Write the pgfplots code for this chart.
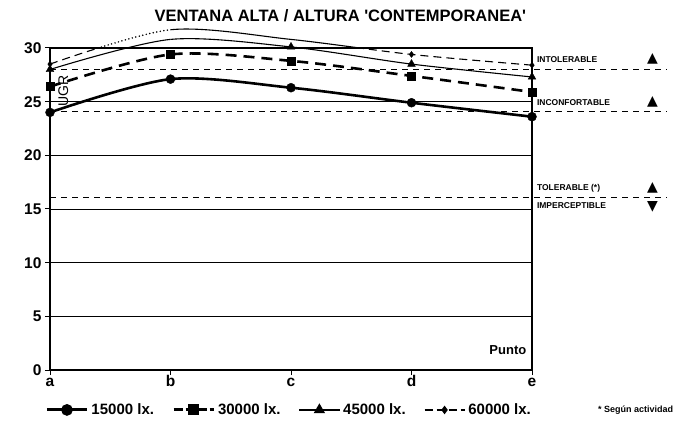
\documentclass[border=0pt]{standalone}
\usepackage{pgfplots}
\pgfplotsset{compat=1.18}
\usepackage{pgfplotstable}
\usepackage{fontspec}
\setmainfont{Liberation Sans}
\newfontfamily\symfont{DejaVu Sans}

\pgfplotstableread{
x s15 s30 s45 s60
0 24.0 26.4 28.0 28.5
1 27.1 29.4 30.8 31.7
2 26.3 28.8 30.1 30.8
3 24.9 27.4 28.5 29.4
4 23.6 25.9 27.3 28.4
}\data

\pgfplotsset{
  geom/.style={scale only axis, width=482pt, height=322pt, xmin=0, xmax=4, ymin=0, ymax=30},
  s15/.style={black, line width=2.6pt, smooth},
  s30/.style={black, line width=2.6pt, dash pattern=on 11pt off 7pt, smooth},
  s45/.style={black, line width=1.1pt, solid, smooth},
  s60/.style={black, line width=1.1pt, dash pattern=on 8pt off 5pt, smooth},
  s60dot/.style={black, line width=1.7pt, dash pattern=on 0pt off 3.6pt, line cap=round, smooth},
}

\begin{document}
\begin{tikzpicture}
% frame, grid, reference lines, texts, legend
\begin{axis}[geom, clip=false,
  ytick={0,5,...,30}, xtick={0,1,2,3,4}, xticklabels={a,b,c,d,e},
  ymajorgrids, major grid style={black, line width=0.8pt},
  axis line style={line width=1.4pt},
  tick style={black, line width=1pt}, major tick length=5pt, tick align=outside,
  ytick pos=left, xtick pos=bottom,
  /pgf/number format/assume math mode=true,
  yticklabel style={font=\bfseries\fontsize{15.5}{17}\selectfont},
  xticklabel style={font=\bfseries\fontsize{15.5}{17}\selectfont, text height=1.6ex, text depth=0.3ex},
  legend image code/.code={\draw[mark repeat=2,mark phase=2,#1] plot coordinates {(0pt,0pt)(20pt,0pt)(40pt,0pt)};},
  legend columns=4,
  legend style={draw=none, fill=none, at={(-0.016,-0.124)}, anchor=west,
    font=\bfseries\fontsize{15}{17}\selectfont,
    /tikz/every odd column/.append style={column sep=1pt},
    /tikz/every even column/.append style={column sep=16pt}},
  legend cell align=left,
]
\addlegendimage{s15, line width=3pt, mark=*, mark size=4.3pt, mark options={solid}}
\addlegendimage{s30, line width=3pt, dash pattern=on 9pt off 3pt, mark=square*, mark size=4pt, mark options={solid}}
\addlegendimage{s45, line width=1.6pt, mark=triangle*, mark size=5pt, mark options={solid}}
\addlegendimage{s60, line width=1.6pt, dash pattern=on 8pt off 4pt, mark=diamond*, mark size=3pt, mark options={solid}}
\legend{15000 lx.,30000 lx.,45000 lx.,60000 lx.}

\addplot[forget plot, black, line width=0.9pt, dash pattern=on 6pt off 5pt] coordinates {(0,28) (5.12,28)};
\addplot[forget plot, black, line width=0.9pt, dash pattern=on 6pt off 5pt] coordinates {(0,24.1) (5.12,24.1)};
\addplot[forget plot, black, line width=0.9pt, dash pattern=on 6pt off 5pt] coordinates {(0,16.1) (5.12,16.1)};

\node[font=\bfseries\fontsize{16.5}{18}\selectfont] at (axis cs:2.41,33.0) {VENTANA ALTA / ALTURA \textquotesingle CONTEMPORANEA\textquotesingle};
\node[font=\bfseries\fontsize{8.5}{9}\selectfont, anchor=west, inner sep=0pt] at (axis cs:4.04,28.9) {INTOLERABLE};
\node[font=\bfseries\fontsize{8.5}{9}\selectfont, anchor=west, inner sep=0pt] at (axis cs:4.04,24.9) {INCONFORTABLE};
\node[font=\bfseries\fontsize{8.5}{9}\selectfont, anchor=west, inner sep=0pt] at (axis cs:4.04,16.9) {TOLERABLE (*)};
\node[font=\bfseries\fontsize{8.5}{9}\selectfont, anchor=west, inner sep=0pt] at (axis cs:4.04,15.3) {IMPERCEPTIBLE};
\node[font=\symfont\fontsize{14}{14}\selectfont, inner sep=0pt] at (axis cs:5.0,29.0) {▲};
\node[font=\symfont\fontsize{14}{14}\selectfont, inner sep=0pt] at (axis cs:5.0,25.0) {▲};
\node[font=\symfont\fontsize{14}{14}\selectfont, inner sep=0pt] at (axis cs:5.0,17.0) {▲};
\node[font=\symfont\fontsize{14}{14}\selectfont, inner sep=0pt] at (axis cs:5.0,15.2) {▼};
\node[font=\bfseries\fontsize{13}{15}\selectfont] at (axis cs:3.8,1.9) {Punto};
\node[rotate=90, font=\fontsize{14}{15}\selectfont, inner sep=0pt] at (axis cs:0.11,26.0) {UGR};
\node[font=\bfseries\fontsize{9}{10}\selectfont] at (axis cs:4.86,-3.7) {* Según actividad};
\end{axis}

% series lines, clipped at 30
\begin{axis}[geom, hide axis, clip=true]
\addplot[s15] table[x=x,y=s15]{\data};
\addplot[s30] table[x=x,y=s30]{\data};
\addplot[s45] table[x=x,y=s45]{\data};
\addplot[s60] table[x=x,y=s60]{\data};
\end{axis}

% parts above 30, between a and b
\begin{axis}[scale only axis, at={(0pt,322pt)}, width=120.5pt, height=42.92pt,
  xmin=0, xmax=1, ymin=30, ymax=34, hide axis, clip=true]
\addplot[s45] table[x=x,y=s45]{\data};
\addplot[s60dot] table[x=x,y=s60]{\data};
\end{axis}

% parts above 30, between b and e
\begin{axis}[scale only axis, at={(120.5pt,322pt)}, width=361.5pt, height=42.92pt,
  xmin=1, xmax=4, ymin=30, ymax=34, hide axis, clip=true]
\addplot[s45] table[x=x,y=s45]{\data};
\addplot[black, line width=1.1pt, solid, smooth] table[x=x,y=s60]{\data};
\end{axis}

% marks
\begin{axis}[geom, hide axis, clip=false]
\addplot[only marks, mark=*, mark size=4.5pt] table[x=x,y=s15]{\data};
\addplot[only marks, mark=square*, mark size=4pt] table[x=x,y=s30]{\data};
\addplot[only marks, mark=triangle*, mark size=4.5pt, mark indices={1,3,4,5}] table[x=x,y=s45]{\data};
\addplot[only marks, mark=diamond*, mark size=3pt, mark indices={1,4,5}] table[x=x,y=s60]{\data};
\end{axis}

\pgfresetboundingbox
\useasboundingbox (-50pt,-55pt) rectangle (626pt,370pt);
\end{tikzpicture}
\end{document}
